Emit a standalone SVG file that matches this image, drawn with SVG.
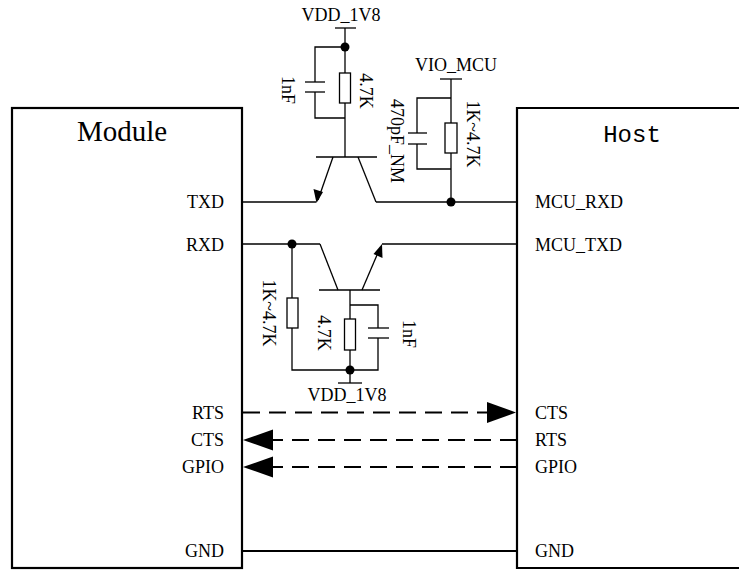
<svg xmlns="http://www.w3.org/2000/svg" width="739" height="570" viewBox="0 0 739 570">
<style>
.box{fill:#fff;stroke:#000;stroke-width:2.2}
.w{fill:none;stroke:#000;stroke-width:1.3}
.d{fill:none;stroke:#000;stroke-width:2.2;stroke-dasharray:17 9}
.g{fill:none;stroke:#000;stroke-width:2.2}
.r{fill:#fff;stroke:#000;stroke-width:1.3}
.dot{fill:#000}
.ah{fill:#000}
text{font-family:"Liberation Serif","Times New Roman",serif;font-size:18px;fill:#000}
.big{font-size:29px}
.mono{font-family:"Liberation Mono","Courier New",monospace;font-size:24px}
.end{text-anchor:end}
.mid{text-anchor:middle}
</style>
<rect width="739" height="570" fill="#fff"/>

<g id="module">
<rect class="box" x="12" y="108" width="230" height="460"/>
<text class="big mid" x="122" y="141">Module</text>
<text class="end" x="224" y="208">TXD</text>
<text class="end" x="224" y="251">RXD</text>
<text class="end" x="224" y="419">RTS</text>
<text class="end" x="224" y="446">CTS</text>
<text class="end" x="224" y="473">GPIO</text>
<text class="end" x="224" y="557">GND</text>
</g>

<g id="host">
<path class="box" d="M745 108 H517 V568 H745"/>
<text class="mono mid" x="632" y="142">Host</text>
<text x="535" y="208">MCU_RXD</text>
<text x="535" y="251">MCU_TXD</text>
<text x="535" y="419">CTS</text>
<text x="535" y="446">RTS</text>
<text x="535" y="473">GPIO</text>
<text x="535" y="557">GND</text>
</g>

<g id="q1">
<line class="w" x1="316" y1="157" x2="377" y2="157"/>
<line class="w" x1="333" y1="157" x2="318" y2="200"/>
<polygon class="ah" points="316.5,203 313.5,189 323,192"/>
<line class="w" x1="358" y1="157" x2="376" y2="202"/>
</g>

<g id="vdd-top">
<line class="w" x1="335" y1="28" x2="356" y2="28"/>
<line class="w" x1="345" y1="28" x2="345" y2="157"/>
<circle class="dot" cx="345" cy="47" r="4.5"/>
<text class="mid" x="341" y="21">VDD_1V8</text>
</g>

<g id="r1">
<rect class="r" x="339.5" y="73" width="11" height="30"/>
<text transform="translate(360,91) rotate(90)" class="mid">4.7K</text>
</g>

<g id="c1">
<path class="w" d="M345 47 H315 V82 M315 92 V118 H345"/>
<line class="w" x1="305" y1="82" x2="325" y2="82"/>
<line class="w" x1="305" y1="92" x2="325" y2="92"/>
<text transform="translate(282,90) rotate(90)" class="mid">1nF</text>
</g>

<g id="vio">
<line class="w" x1="440" y1="79" x2="462" y2="79"/>
<line class="w" x1="451" y1="79" x2="451" y2="202"/>
<text class="mid" x="456" y="71">VIO_MCU</text>
<rect class="r" x="445" y="123" width="12" height="30"/>
<text transform="translate(467,134) rotate(90)" class="mid">1K~4.7K</text>
<path class="w" d="M451 98 H417 V133 M417 144 V169 H451"/>
<line class="w" x1="408" y1="133" x2="427" y2="133"/>
<line class="w" x1="408" y1="144" x2="427" y2="144"/>
<text transform="translate(391,141) rotate(90)" class="mid">470pF_NM</text>
<circle class="dot" cx="451" cy="202" r="4.5"/>
</g>

<g id="q2">
<line class="w" x1="319" y1="290" x2="380" y2="290"/>
<line class="w" x1="320" y1="244" x2="338" y2="290"/>
<line class="w" x1="362" y1="290" x2="380" y2="248"/>
<polygon class="ah" points="382,244 382.5,258 373.5,254"/>
<line class="w" x1="350" y1="290" x2="350" y2="383"/>
<circle class="dot" cx="292" cy="244" r="4.5"/>
<path class="w" d="M292 244 V370 H350"/>
<rect class="r" x="287" y="298" width="11" height="30"/>
<text transform="translate(263,313) rotate(90)" class="mid">1K~4.7K</text>
<rect class="r" x="344.5" y="319" width="11" height="31"/>
<text transform="translate(318,333) rotate(90)" class="mid">4.7K</text>
<path class="w" d="M350 305 H378 V328 M378 338 V370 H350"/>
<line class="w" x1="368" y1="328" x2="389" y2="328"/>
<line class="w" x1="368" y1="338" x2="389" y2="338"/>
<text transform="translate(403,334) rotate(90)" class="mid">1nF</text>
<circle class="dot" cx="350" cy="370" r="4.5"/>
<line class="w" x1="338" y1="383" x2="362" y2="383"/>
<text class="mid" x="347" y="401">VDD_1V8</text>
</g>

<g id="connectors">
<line class="w" x1="242" y1="202" x2="316" y2="202"/>
<line class="w" x1="376" y1="202" x2="517" y2="202"/>
<line class="w" x1="242" y1="244" x2="320" y2="244"/>
<line class="w" x1="382" y1="244" x2="517" y2="244"/>
<line class="d" x1="243" y1="412.5" x2="488" y2="412.5"/>
<polygon class="ah" points="516,412.5 487,402 487,423"/>
<line class="d" x1="517" y1="440" x2="273" y2="440"/>
<polygon class="ah" points="243,440 273,429.5 273,450.5"/>
<line class="d" x1="517" y1="467" x2="273" y2="467"/>
<polygon class="ah" points="243,467 273,456.5 273,477.5"/>
<line class="g" x1="242" y1="551" x2="517" y2="551"/>
</g>
</svg>
